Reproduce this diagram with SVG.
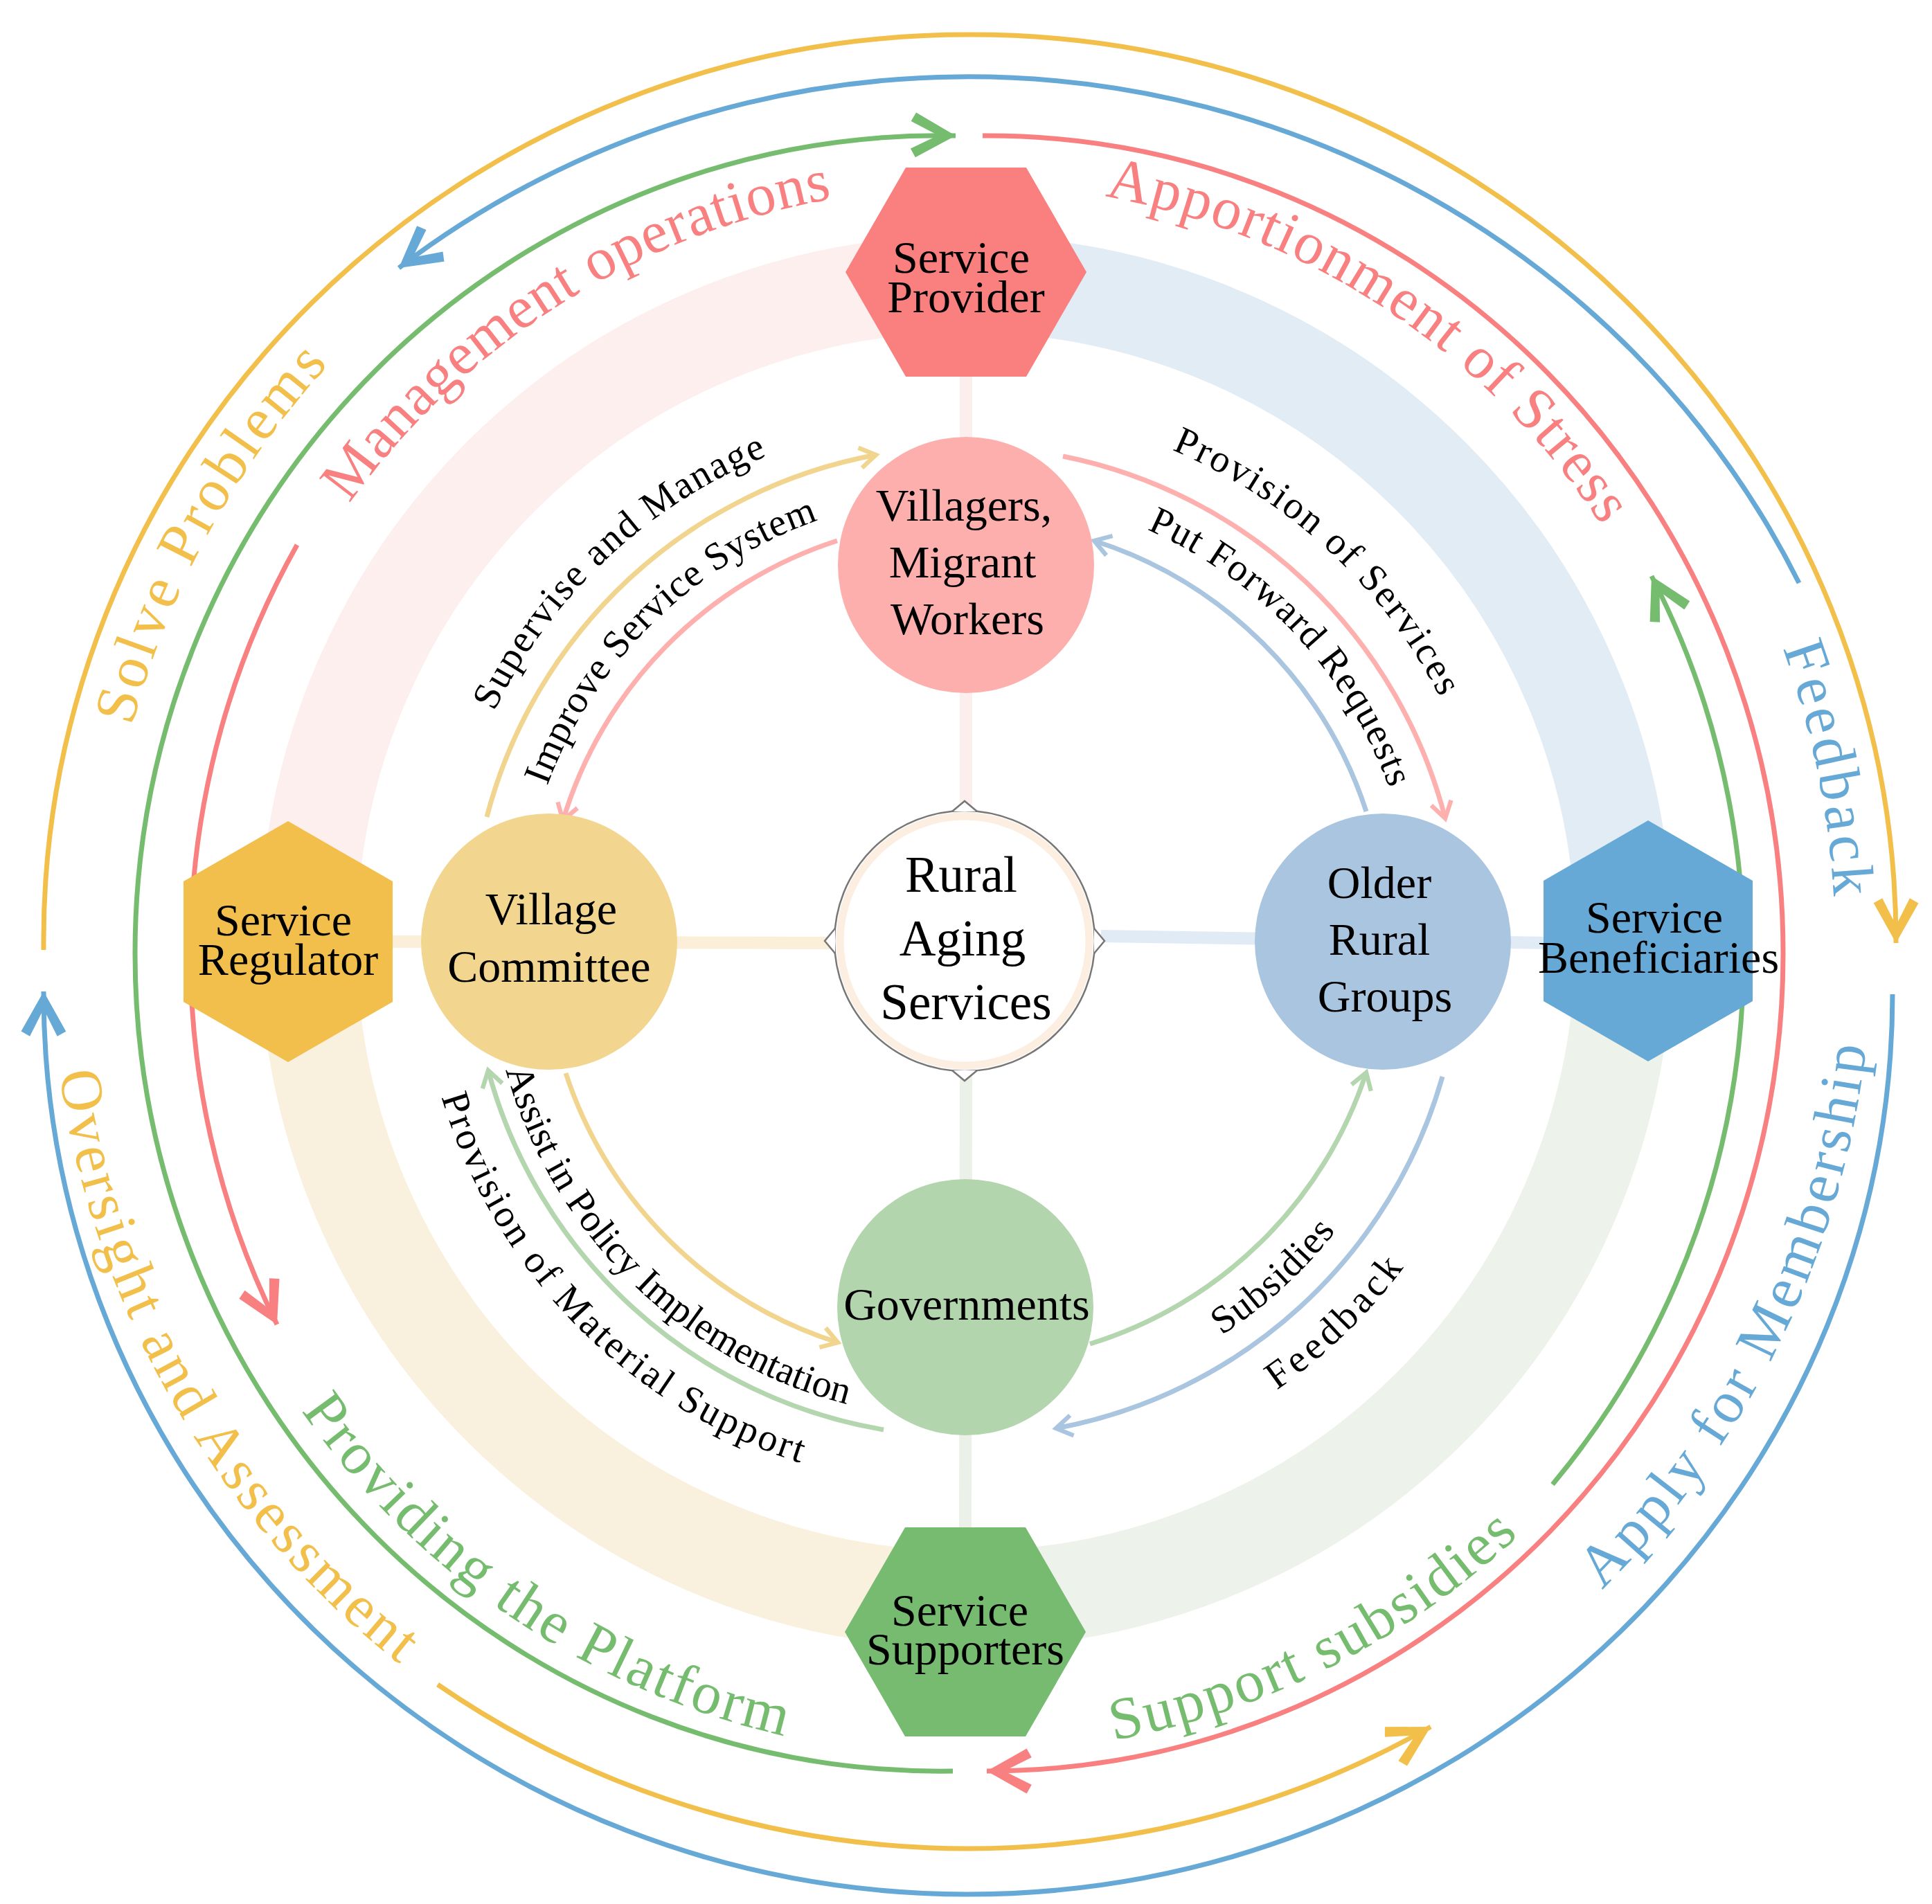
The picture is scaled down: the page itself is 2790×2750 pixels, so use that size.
<svg xmlns="http://www.w3.org/2000/svg" width="2790" height="2750" viewBox="0 0 2790 2750">
<defs>
<style>
.ring{fill:none;stroke-width:7}
.inr{fill:none;stroke-width:7}
.lbl{font-family:"Liberation Serif","Times New Roman",serif;font-size:66px;fill:#000;text-anchor:middle}
.ctr{font-family:"Liberation Serif","Times New Roman",serif;font-size:73px;fill:#000;text-anchor:middle}
.big{font-family:"Liberation Serif","Times New Roman",serif;font-size:86px}
.sm{font-family:"Liberation Serif","Times New Roman",serif;font-size:56px;fill:#000}
</style>
<marker id="mY" viewBox="0 0 20 20" refX="18" refY="10" markerUnits="userSpaceOnUse" markerWidth="72" markerHeight="72" orient="auto"><path d="M2,1 L18,10 L2,19 L0,15.5 L11,10 L0,4.5 z" fill="#F2BF4B"/></marker>
<marker id="mB" viewBox="0 0 20 20" refX="18" refY="10" markerUnits="userSpaceOnUse" markerWidth="72" markerHeight="72" orient="auto"><path d="M2,1 L18,10 L2,19 L0,15.5 L11,10 L0,4.5 z" fill="#66A9D6"/></marker>
<marker id="mG" viewBox="0 0 20 20" refX="18" refY="10" markerUnits="userSpaceOnUse" markerWidth="72" markerHeight="72" orient="auto"><path d="M2,1 L18,10 L2,19 L0,15.5 L11,10 L0,4.5 z" fill="#76BC6F"/></marker>
<marker id="mR" viewBox="0 0 20 20" refX="18" refY="10" markerUnits="userSpaceOnUse" markerWidth="72" markerHeight="72" orient="auto"><path d="M2,1 L18,10 L2,19 L0,15.5 L11,10 L0,4.5 z" fill="#F98080"/></marker>
<marker id="iY" viewBox="0 0 16 18" refX="13" refY="9" markerUnits="userSpaceOnUse" markerWidth="34" markerHeight="38" orient="auto"><path d="M2,2 L13,9 L2,16" fill="none" stroke="#F1D58E" stroke-width="3"/></marker>
<marker id="iP" viewBox="0 0 16 18" refX="13" refY="9" markerUnits="userSpaceOnUse" markerWidth="34" markerHeight="38" orient="auto"><path d="M2,2 L13,9 L2,16" fill="none" stroke="#FDB0AE" stroke-width="3"/></marker>
<marker id="iB" viewBox="0 0 16 18" refX="13" refY="9" markerUnits="userSpaceOnUse" markerWidth="34" markerHeight="38" orient="auto"><path d="M2,2 L13,9 L2,16" fill="none" stroke="#A9C5E0" stroke-width="3"/></marker>
<marker id="iG" viewBox="0 0 16 18" refX="13" refY="9" markerUnits="userSpaceOnUse" markerWidth="34" markerHeight="38" orient="auto"><path d="M2,2 L13,9 L2,16" fill="none" stroke="#B4D6AE" stroke-width="3"/></marker>
<path id="tSolve" d="M190.7,1049 A1245,1245 0 0 1 477.1,523.9"/>
<path id="tMgmt" d="M504.7,727.6 A1095,1095 0 0 1 1204.9,286.6"/>
<path id="tApp" d="M1595.4,283.4 A1100,1100 0 0 1 2316.5,764.3"/>
<path id="tFb" d="M2574.3,935.8 A1255,1255 0 0 1 2648.3,1299.4"/>
<path id="tApply" d="M2313.5,2296.3 A1308,1308 0 0 0 2695.4,1506.3"/>
<path id="tSup" d="M1607.8,2513.5 A1168,1168 0 0 0 2196,2215.1"/>
<path id="tProv" d="M434.9,2037.3 A1172,1172 0 0 0 1135.4,2507.8"/>
<path id="tOver" d="M85.8,1549 A1322,1322 0 0 0 581,2406.7"/>
<path id="sSup" d="M713.7,1027.7 A758,758 0 0 1 1111.1,657.2"/>
<path id="sImp" d="M790.4,1135.2 A645,645 0 0 1 1185,750.2"/>
<path id="sPS" d="M1692.1,649.7 A770,770 0 0 1 2081.1,1010.4"/>
<path id="sPut" d="M1656.2,764.8 A650,650 0 0 1 2007.4,1141.9"/>
<path id="sSub" d="M1764.2,1928.6 A678,678 0 0 0 1930,1776.5"/>
<path id="sFb" d="M1843.6,2007.8 A788,788 0 0 0 2028.5,1828.7"/>
<path id="sAss" d="M730.4,1545.5 A690,690 0 0 0 1228.1,2029.5"/>
<path id="sMat" d="M637.5,1584.4 A790,790 0 0 0 1161.4,2114.7"/>
</defs>
<rect width="2790" height="2750" fill="#fff"/>

<g id="band">
<path d="M445,1360 A950,950 0 0 1 1395,410" fill="none" stroke="#FDEFEE" stroke-width="140"/>
<path d="M1395,410 A950,950 0 0 1 2345,1360" fill="none" stroke="#E2ECF5" stroke-width="140"/>
<path d="M2345,1360 A950,950 0 0 1 1395,2310" fill="none" stroke="#EDF2EA" stroke-width="140"/>
<path d="M1395,2310 A950,950 0 0 1 445,1360" fill="none" stroke="#FAF0DE" stroke-width="140"/>
</g>

<g id="connectors">
<line x1="1395" y1="1170" x2="1395" y2="440" stroke="#FDEEEE" stroke-width="18"/>
<line x1="1205" y1="1362" x2="560" y2="1360" stroke="#FBEFDA" stroke-width="18"/>
<line x1="1590" y1="1352" x2="2240" y2="1362" stroke="#E1EBF6" stroke-width="18"/>
<line x1="1395" y1="1550" x2="1394" y2="2220" stroke="#EBF1E8" stroke-width="18"/>

<path class="ring" stroke="#F2BF4B" d="M63,1372 A1335,1310 0 0 1 1398,50 A1335,1310 0 0 1 2738,1362" marker-end="url(#mY)"/>
<path class="ring" stroke="#F2BF4B" d="M632,2433 A1335,1310 0 0 0 2066,2494" marker-end="url(#mY)"/>
<path class="ring" stroke="#66A9D6" d="M2598,842 A1335,1302 0 0 0 576,387" marker-end="url(#mB)"/>
<path class="ring" stroke="#66A9D6" d="M2733,1436 A1335,1302 0 0 1 63,1432" marker-end="url(#mB)"/>
<path class="ring" stroke="#76BC6F" d="M1376,2558 A1163,1181 0 0 1 195,1377 A1163,1181 0 0 1 1380,196" marker-end="url(#mG)"/>
<path class="ring" stroke="#76BC6F" d="M2242,2144 A1163,1181 0 0 0 2385,832" marker-end="url(#mG)"/>
<path class="ring" stroke="#F98080" d="M1419,196 A1150,1181 0 0 1 2575,1377 A1150,1181 0 0 1 1425,2558" marker-end="url(#mR)"/>
<path class="ring" stroke="#F98080" d="M429,787 A1150,1181 0 0 0 400,1913" marker-end="url(#mR)"/>

<path class="inr" stroke="#F1D58E" d="M703,1180 A715,715 0 0 1 1265,657" marker-end="url(#iY)"/>
<path class="inr" stroke="#FDB0AE" d="M1535,659 A715,715 0 0 1 2087,1182" marker-end="url(#iP)"/>
<path class="inr" stroke="#A9C5E0" d="M2083,1555 A715,715 0 0 1 1525,2063" marker-end="url(#iB)"/>
<path class="inr" stroke="#B4D6AE" d="M1276,2065 A715,715 0 0 1 705,1546" marker-end="url(#iG)"/>
<path class="inr" stroke="#FDB0AE" d="M1209,781 A608,608 0 0 0 813,1185" marker-end="url(#iP)"/>
<path class="inr" stroke="#A9C5E0" d="M1973,1172 A608,608 0 0 0 1580,781" marker-end="url(#iB)"/>
<path class="inr" stroke="#B4D6AE" d="M1574,1941 A608,608 0 0 0 1973,1549" marker-end="url(#iG)"/>
<path class="inr" stroke="#F1D58E" d="M817,1550 A608,608 0 0 0 1210,1939" marker-end="url(#iY)"/>
</g>

<g id="outer-labels">
<text class="big" fill="#F2BF4B"><textPath href="#tSolve" textLength="600" lengthAdjust="spacing">Solve Problems</textPath></text>
<text class="big" fill="#F98080"><textPath href="#tMgmt" textLength="845" lengthAdjust="spacing">Management operations</textPath></text>
<text class="big" fill="#F98080"><textPath href="#tApp" textLength="885" lengthAdjust="spacing">Apportionment of Stress</textPath></text>
<text class="big" fill="#66A9D6"><textPath href="#tFb" textLength="368" lengthAdjust="spacing">Feedback</textPath></text>
<text class="big" fill="#66A9D6"><textPath href="#tApply" textLength="890" lengthAdjust="spacing">Apply for Membership</textPath></text>
<text class="big" fill="#76BC6F"><textPath href="#tSup" textLength="665" lengthAdjust="spacing">Support subsidies</textPath></text>
<text class="big" fill="#76BC6F"><textPath href="#tProv" textLength="860" lengthAdjust="spacing">Providing the Platform</textPath></text>
<text class="big" fill="#F2BF4B"><textPath href="#tOver" textLength="1010" lengthAdjust="spacing">Oversight and Assessment</textPath></text>
</g>

<g id="inner-labels">
<text class="sm"><textPath href="#sSup" textLength="552" lengthAdjust="spacing">Supervise and Manage</textPath></text>
<text class="sm"><textPath href="#sImp" textLength="566" lengthAdjust="spacing">Improve Service System</textPath></text>
<text class="sm"><textPath href="#sPS" textLength="538" lengthAdjust="spacing">Provision of Services</textPath></text>
<text class="sm"><textPath href="#sPut" textLength="526" lengthAdjust="spacing">Put Forward Requests</textPath></text>
<text class="sm"><textPath href="#sSub" textLength="224" lengthAdjust="spacing">Subsidies</textPath></text>
<text class="sm"><textPath href="#sFb" textLength="256" lengthAdjust="spacing">Feedback</textPath></text>
<text class="sm"><textPath href="#sAss" textLength="722" lengthAdjust="spacing">Assist in Policy Implementation</textPath></text>
<text class="sm"><textPath href="#sMat" textLength="770" lengthAdjust="spacing">Provision of Material Support</textPath></text>
</g>

<g id="center">
<circle cx="1393" cy="1359" r="188" fill="#fff" stroke="#777" stroke-width="2.5"/>
<path d="M1375,1172 L1393,1157 L1411,1172" fill="#fff" stroke="#777" stroke-width="2.5"/>
<path d="M1375,1546 L1393,1561 L1411,1546" fill="#fff" stroke="#777" stroke-width="2.5"/>
<path d="M1206,1341 L1191,1359 L1206,1377" fill="#fff" stroke="#777" stroke-width="2.5"/>
<path d="M1580,1341 L1595,1359 L1580,1377" fill="#fff" stroke="#777" stroke-width="2.5"/>
<circle cx="1393" cy="1359" r="180" fill="#fff" stroke="#FCEFE2" stroke-width="11"/>
<text class="ctr" x="1388" y="1288">Rural</text>
<text class="ctr" x="1390" y="1380">Aging</text>
<text class="ctr" x="1395" y="1472">Services</text>
</g>

<g id="provider">
<polygon points="1221,393 1308,242 1482,242 1569,393 1482,544 1308,544" fill="#FA8080"/>
<text class="lbl" x="1388" y="394">Service</text>
<text class="lbl" x="1395" y="451">Provider</text>
</g>
<g id="regulator">
<polygon points="416,1186 567,1273 567,1447 416,1534 265,1447 265,1273" fill="#F2BF4C"/>
<text class="lbl" x="409" y="1351">Service</text>
<text class="lbl" x="416" y="1408">Regulator</text>
</g>
<g id="beneficiaries">
<polygon points="2380,1185 2531,1272 2531,1446 2380,1533 2229,1446 2229,1272" fill="#66A9D6"/>
<text class="lbl" x="2389" y="1347">Service</text>
<text class="lbl" x="2395" y="1405">Beneficiaries</text>
</g>
<g id="supporters">
<polygon points="1220,2357 1307,2206 1481,2206 1568,2357 1481,2508 1307,2508" fill="#77BB71"/>
<text class="lbl" x="1386" y="2348">Service</text>
<text class="lbl" x="1394" y="2404">Supporters</text>
</g>

<g id="villagers">
<circle cx="1395" cy="816" r="185" fill="#FDAFAD"/>
<text class="lbl" x="1392" y="752">Villagers,</text>
<text class="lbl" x="1390" y="834">Migrant</text>
<text class="lbl" x="1397" y="916">Workers</text>
</g>
<g id="village-committee">
<circle cx="793" cy="1360" r="185" fill="#F2D690"/>
<text class="lbl" x="796" y="1335">Village</text>
<text class="lbl" x="793" y="1418">Committee</text>
</g>
<g id="older">
<circle cx="1997" cy="1360" r="185" fill="#A9C5E0"/>
<text class="lbl" x="1992" y="1297">Older</text>
<text class="lbl" x="1992" y="1379">Rural</text>
<text class="lbl" x="2000" y="1461">Groups</text>
</g>
<g id="governments">
<circle cx="1394" cy="1888" r="185" fill="#B3D5AD"/>
<text class="lbl" x="1396" y="1906">Governments</text>
</g>
</svg>
